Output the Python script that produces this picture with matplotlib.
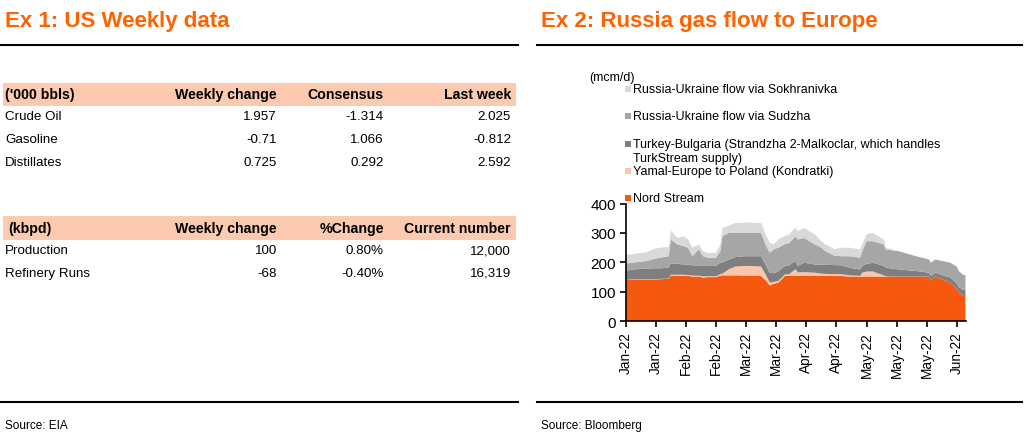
import matplotlib
matplotlib.use("Agg")
import matplotlib.pyplot as plt
import matplotlib.dates as mdates
from matplotlib.patches import Rectangle
from matplotlib.lines import Line2D
import pandas as pd

plt.rcParams["font.family"] = ["Liberation Sans", "DejaVu Sans"]

W, H = 1024, 435
ORANGE = "#FF6200"
PEACH = "#FCCAAE"

# ---- Ex 1 tables ----
T1_HEADER = ["('000 bbls)", "Weekly change", "Consensus", "Last week"]
T1_ROWS = ["Crude Oil", "Gasoline", "Distillates"]
T1_WEEKLY = ["1.957", "-0.71", "0.725"]
T1_CONSENSUS = ["-1.314", "1.066", "0.292"]
T1_LAST = ["2.025", "-0.812", "2.592"]

T2_HEADER = ["(kbpd)", "Weekly change", "%Change", "Current number"]
T2_ROWS = ["Production", "Refinery Runs"]
T2_WEEKLY = ["100", "-68"]
T2_PCT = ["0.80%", "-0.40%"]
T2_CURRENT = ["12,000", "16,319"]

# ---- Ex 2 gas flows (mcm/d) ----
DATES = ["2022-01-10", "2022-01-13", "2022-01-20", "2022-01-23", "2022-01-26",
         "2022-01-30", "2022-01-31", "2022-02-03", "2022-02-06", "2022-02-08",
         "2022-02-10", "2022-02-13", "2022-02-15", "2022-02-17", "2022-02-21",
         "2022-02-23", "2022-02-24", "2022-02-27", "2022-03-02", "2022-03-06",
         "2022-03-09", "2022-03-14", "2022-03-16", "2022-03-18", "2022-03-20",
         "2022-03-22", "2022-03-25", "2022-03-27", "2022-03-30", "2022-03-31",
         "2022-04-03", "2022-04-08", "2022-04-11", "2022-04-13", "2022-04-16",
         "2022-04-17", "2022-04-20", "2022-04-24", "2022-04-29", "2022-04-30",
         "2022-05-02", "2022-05-05", "2022-05-10", "2022-05-11", "2022-05-17",
         "2022-05-25", "2022-05-31", "2022-06-01", "2022-06-03", "2022-06-06",
         "2022-06-10", "2022-06-13", "2022-06-14", "2022-06-16", "2022-06-17"]
NORD_STREAM = [141, 141, 142, 142, 143, 144, 155, 155, 155, 154,
               152, 152, 148, 150, 150, 155, 156, 156, 156, 155,
               155, 154, 140, 122, 128, 131, 154, 154, 154, 154,
               154, 154, 154, 154, 154, 154, 154, 152, 152, 152,
               152, 152, 152, 152, 152, 152, 152, 139, 152, 143,
               132, 109, 98, 86, 86]
YAMAL = [0, 1, 1, 1, 1, 1, 3, 3, 3, 3,
         3, 3, 4, 3, 3, 5, 6, 21, 30, 33,
         33, 32, 20, 9, 6, 6, 5, 6, 23, 12,
         13, 11, 8, 7, 6, 6, 6, 4, 2, 13,
         17, 17, 4, 1, 0, 0, 0, 0, 0, 0,
         0, 0, 0, 0, 0]
TURKEY_BULGARIA = [30, 34, 36, 37, 36, 37, 39, 37, 35, 35,
                   35, 35, 36, 35, 35, 39, 38, 33, 32, 33,
                   33, 35, 33, 34, 29, 33, 29, 30, 28, 22,
                   32, 28, 30, 31, 31, 31, 30, 26, 22, 23,
                   26, 30, 32, 29, 24, 19, 13, 15, 13, 14,
                   17, 19, 17, 21, 21]
SUDZHA = [25, 23, 26, 32, 36, 39, 81, 66, 62, 58,
          31, 54, 33, 28, 28, 39, 89, 90, 82, 79,
          79, 79, 68, 68, 82, 80, 74, 76, 84, 90,
          84, 68, 58, 46, 36, 32, 31, 39, 40, 50,
          77, 73, 73, 62, 62, 50, 45, 45, 45, 48,
          50, 57, 55, 50, 50]
SOKHRANIVKA = [29, 29, 30, 33, 34, 31, 30, 22, 34, 28,
               29, 17, 17, 16, 16, 23, 28, 25, 34, 35,
               35, 34, 34, 33, 17, 28, 28, 29, 30, 28,
               34, 34, 22, 23, 23, 21, 29, 29, 28, 23,
               23, 28, 17, 6, 0, 0, 0, 0, 0, 0,
               0, 0, 0, 0, 0]

SERIES_NAMES = ["Nord Stream", "Yamal-Europe to Poland (Kondratki)",
                "Turkey-Bulgaria (Strandzha 2-Malkoclar, which handles\nTurkStream supply)",
                "Russia-Ukraine flow via Sudzha", "Russia-Ukraine flow via Sokhranivka"]
SERIES_COLORS = ["#F5590F", "#FCC6AA", "#7F7F7F", "#A6A6A6", "#D9D9D9"]
Y_TICKS = [0, 100, 200, 300, 400]


def fx(x):
    return x / W


def fy(y):
    return 1 - y / H


fig = plt.figure(figsize=(W / 100, H / 100), dpi=100)


def hline(y, x0, x1, lw=1.5):
    fig.add_artist(Line2D([fx(x0), fx(x1)], [fy(y), fy(y)], color="black", lw=lw))


def txt(x, y, s, ha="left", size=9.6, weight="normal", color="black"):
    fig.text(fx(x), fy(y), s, ha=ha, va="center", fontsize=size,
             fontweight=weight, color=color)


# titles and rules
txt(5, 21, "Ex 1: US Weekly data", size=16, weight="bold", color=ORANGE)
txt(541, 21, "Ex 2: Russia gas flow to Europe", size=16, weight="bold", color=ORANGE)
hline(46, 0, 518)
hline(46, 537, 1022)
hline(403, 0, 518)
hline(403, 537, 1022)
txt(5, 426, "Source: EIA", size=8.5)
txt(541, 426, "Source: Bloomberg", size=8.5)

# tables
col_right = [277, 384, 511]


def table(y_head, y_band0, y_band1, header, rows, cols, first_x):
    fig.add_artist(Rectangle((fx(3), fy(y_band1)), fx(516) - fx(3), fy(y_band0) - fy(y_band1),
                             facecolor=PEACH, edgecolor="none"))
    txt(first_x, y_head, header[0], size=10.2, weight="bold")
    for h, xr in zip(header[1:], col_right):
        txt(xr, y_head, h, ha="right", size=10.2, weight="bold")
    for i, r in enumerate(rows):
        y = y_head + 22.5 * (i + 1)
        txt(5, y, r)
        for vals, xr in zip(cols, col_right):
            txt(xr, y, vals[i], ha="right")


table(95, 84, 107, T1_HEADER, T1_ROWS, [T1_WEEKLY, T1_CONSENSUS, T1_LAST], 5)
table(229, 217, 241, T2_HEADER, T2_ROWS, [T2_WEEKLY, T2_PCT, T2_CURRENT], 8)

# gas chart
dates = pd.to_datetime(DATES)
ax = fig.add_axes([fx(625.7), fy(322.3), fx(966) - fx(625.7), fy(204.5) - fy(322.3)])
ax.stackplot(dates, NORD_STREAM, YAMAL, TURKEY_BULGARIA, SUDZHA, SOKHRANIVKA,
             colors=SERIES_COLORS, linewidth=0)
ax.set_xlim(pd.Timestamp("2022-01-10"), pd.Timestamp("2022-06-17 06:00"))
ax.set_ylim(0, 400)
ax.set_yticks(Y_TICKS)
ax.set_xticks(pd.date_range("2022-01-10", periods=12, freq="14D"))
ax.xaxis.set_major_formatter(mdates.DateFormatter("%b-%y"))
for s in ["top", "right"]:
    ax.spines[s].set_visible(False)
for s in ["left", "bottom"]:
    ax.spines[s].set_linewidth(1.2)
ax.tick_params(axis="y", labelsize=11, length=4, width=1.2, colors="black", pad=3)
ax.tick_params(axis="x", labelsize=9.8, length=4, width=1.2, labelrotation=90, pad=3)
ax.patch.set_alpha(0)

# legend (drawn as figure text, top entry = top of stack)
txt(589, 78, "(mcm/d)", size=9)
legend_y = [90, 117, 145, 172, 199]
for name, col, y in zip(SERIES_NAMES[::-1], SERIES_COLORS[::-1], legend_y):
    fig.add_artist(Rectangle((fx(625), fy(y + 3)), fx(6), fy(0) - fy(6),
                             facecolor=col, edgecolor="none"))
    lines = name.split("\n")
    txt(633, y, lines[0], size=9)
    if len(lines) > 1:
        txt(633, y + 14, lines[1], size=9)

fig.savefig("out.png", dpi=100)
